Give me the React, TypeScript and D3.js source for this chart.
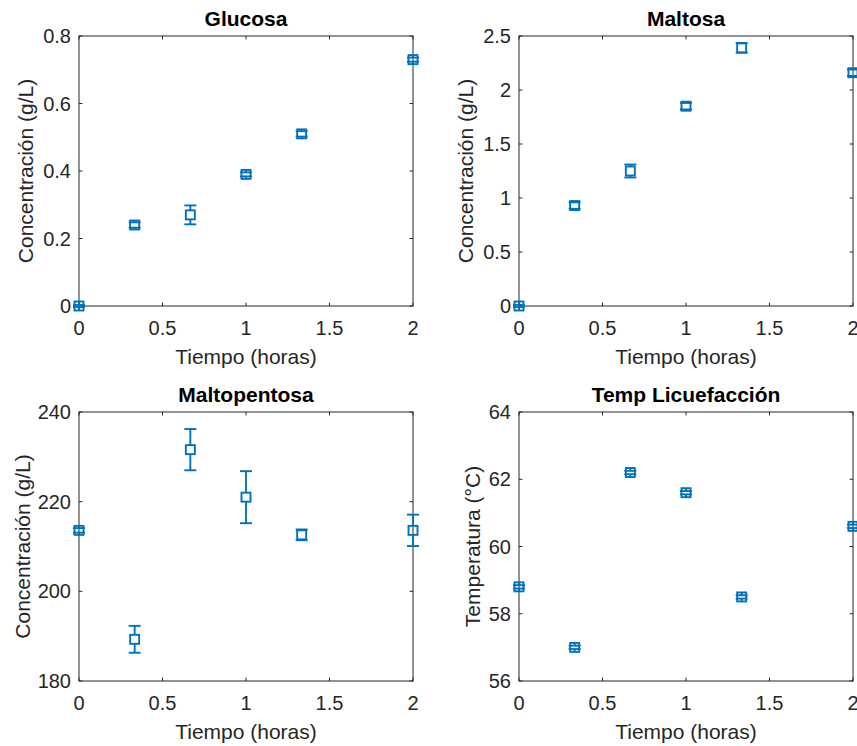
import React from "react";
import * as d3 from "d3";

const tiempo = [0, 1 / 3, 2 / 3, 1, 4 / 3, 2];
const xTicks = [0, 0.5, 1, 1.5, 2];

const glucosa = [0, 0.24, 0.27, 0.39, 0.51, 0.73];
const glucosaErr = [0.003, 0.008, 0.028, 0.006, 0.008, 0.006];
const glucosaTicks = [0, 0.2, 0.4, 0.6, 0.8];

const maltosa = [0, 0.93, 1.25, 1.85, 2.39, 2.16];
const maltosaErr = [0.01, 0.03, 0.06, 0.03, 0.045, 0.03];
const maltosaTicks = [0, 0.5, 1, 1.5, 2, 2.5];

const maltopentosa = [213.6, 189.3, 231.6, 221.0, 212.6, 213.6];
const maltopentosaErr = [0.5, 3.0, 4.6, 5.8, 1.2, 3.5];
const maltopentosaTicks = [180, 200, 220, 240];

const temperatura = [58.8, 57.0, 62.2, 61.6, 58.5, 60.6];
const temperaturaErr = [0.05, 0.05, 0.05, 0.05, 0.05, 0.05];
const temperaturaTicks = [56, 58, 60, 62, 64];

const BLUE = "#0072BD";
const AX = "#262626";
const FONT = "'Liberation Sans', Arial, Helvetica, sans-serif";

type PanelProps = {
  left: number;
  top: number;
  width: number;
  height: number;
  title: string;
  ylabel: string;
  yDomain: [number, number];
  yTicks: number[];
  values: number[];
  errors: number[];
  ylabelOffset: number;
};

function Panel(p: PanelProps) {
  const x = d3.scaleLinear().domain([0, 2]).range([p.left, p.left + p.width]);
  const y = d3.scaleLinear().domain(p.yDomain).range([p.top + p.height, p.top]);
  const fmt = (v: number) => d3.format("~g")(v);
  const tl = 3.4;
  const half = 4.5;
  const cap = 6;
  const bottom = p.top + p.height;
  const right = p.left + p.width;
  return (
    <g>
      <rect x={p.left} y={p.top} width={p.width} height={p.height} fill="white" stroke={AX} strokeWidth={1} />
      {xTicks.map((t) => (
        <g key={"x" + t}>
          <line x1={x(t)} x2={x(t)} y1={bottom} y2={bottom - tl} stroke={AX} />
          <line x1={x(t)} x2={x(t)} y1={p.top} y2={p.top + tl} stroke={AX} />
          <text x={x(t)} y={bottom + 29} textAnchor="middle" fontSize={20} fill={AX} fontFamily={FONT}>
            {fmt(t)}
          </text>
        </g>
      ))}
      {p.yTicks.map((t) => (
        <g key={"y" + t}>
          <line x1={p.left} x2={p.left + tl} y1={y(t)} y2={y(t)} stroke={AX} />
          <line x1={right} x2={right - tl} y1={y(t)} y2={y(t)} stroke={AX} />
          <text x={p.left - 8} y={y(t) + 7} textAnchor="end" fontSize={20} fill={AX} fontFamily={FONT}>
            {fmt(t)}
          </text>
        </g>
      ))}
      <text x={(p.left + right) / 2} y={p.top - 10} textAnchor="middle" fontSize={21} fontWeight="bold" fill="#000" fontFamily={FONT}>
        {p.title}
      </text>
      <text x={(p.left + right) / 2} y={bottom + 58} textAnchor="middle" fontSize={21} fontWeight="normal" fill={AX} fontFamily={FONT}>
        Tiempo (horas)
      </text>
      <text
        transform={`translate(${p.left - p.ylabelOffset},${p.top + p.height / 2}) rotate(-90)`}
        textAnchor="middle"
        fontSize={21}
        fill={AX}
        fontFamily={FONT}
      >
        {p.ylabel}
      </text>
      {tiempo.map((t, i) => {
        const cx = x(t);
        const cy = y(p.values[i]);
        const y1 = y(p.values[i] + p.errors[i]);
        const y0 = y(p.values[i] - p.errors[i]);
        return (
          <g key={"p" + i} stroke={BLUE} strokeWidth={1.9} fill="none">
            <line x1={cx} x2={cx} y1={y1} y2={cy - half} />
            <line x1={cx} x2={cx} y1={cy + half} y2={y0} />
            <line x1={cx - cap} x2={cx + cap} y1={y1} y2={y1} />
            <line x1={cx - cap} x2={cx + cap} y1={y0} y2={y0} />
            <rect x={cx - half} y={cy - half} width={half * 2} height={half * 2} />
          </g>
        );
      })}
    </g>
  );
}

export default function App() {
  return (
    <svg
      width={857}
      height={746}
      style={{ position: "absolute", left: 0, top: 0, background: "white" }}
    >
      <rect x={0} y={0} width={857} height={746} fill="white" />
      <Panel left={79} top={36} width={334} height={270} title="Glucosa" ylabel="Concentración (g/L)"
        yDomain={[0, 0.8]} yTicks={glucosaTicks} values={glucosa} errors={glucosaErr} ylabelOffset={46} />
      <Panel left={519} top={36} width={334} height={270} title="Maltosa" ylabel="Concentración (g/L)"
        yDomain={[0, 2.5]} yTicks={maltosaTicks} values={maltosa} errors={maltosaErr} ylabelOffset={46} />
      <Panel left={79} top={412} width={334} height={269} title="Maltopentosa" ylabel="Concentración (g/L)"
        yDomain={[180, 240]} yTicks={maltopentosaTicks} values={maltopentosa} errors={maltopentosaErr} ylabelOffset={49} />
      <Panel left={519} top={412} width={334} height={269} title="Temp Licuefacción" ylabel="Temperatura (°C)"
        yDomain={[56, 64]} yTicks={temperaturaTicks} values={temperatura} errors={temperaturaErr} ylabelOffset={39} />
    </svg>
  );
}
